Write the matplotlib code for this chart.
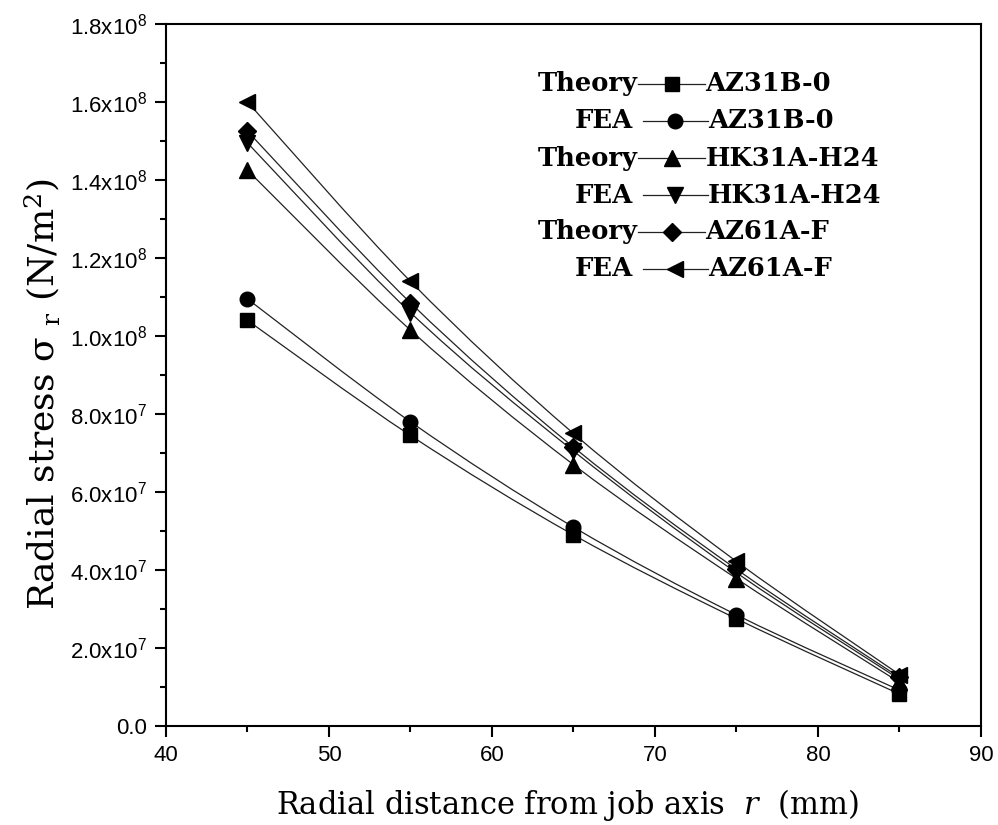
import matplotlib
matplotlib.use("Agg")
import matplotlib.pyplot as plt
from matplotlib.path import Path
from matplotlib.patches import PathPatch
from matplotlib.ticker import MultipleLocator

plt.rcParams["mathtext.fontset"] = "custom"
plt.rcParams["mathtext.rm"] = "Liberation Sans"
plt.rcParams["mathtext.sf"] = "DejaVu Serif"
plt.rcParams["mathtext.it"] = "DejaVu Serif:italic"

# radial distance (mm)
R_MM = [45, 55, 65, 75, 85]

# radial stress (N/m^2)
AZ31B_THEORY = [1.04e8, 7.45e7, 4.90e7, 2.75e7, 0.82e7]
AZ31B_FEA = [1.095e8, 7.80e7, 5.10e7, 2.85e7, 0.92e7]
HK31A_THEORY = [1.425e8, 1.015e8, 6.70e7, 3.78e7, 1.12e7]
HK31A_FEA = [1.495e8, 1.06e8, 7.05e7, 3.93e7, 1.20e7]
AZ61A_THEORY = [1.525e8, 1.085e8, 7.15e7, 4.02e7, 1.25e7]
AZ61A_FEA = [1.60e8, 1.14e8, 7.50e7, 4.22e7, 1.32e7]

METHODS = ["Theory", "FEA", "Theory", "FEA", "Theory", "FEA"]
MATERIALS = ["AZ31B-0", "AZ31B-0", "HK31A-H24", "HK31A-H24", "AZ61A-F", "AZ61A-F"]
SERIES = [AZ31B_THEORY, AZ31B_FEA, HK31A_THEORY, HK31A_FEA, AZ61A_THEORY, AZ61A_FEA]

YTICKS = [0, 2e7, 4e7, 6e7, 8e7, 1e8, 1.2e8, 1.4e8, 1.6e8, 1.8e8]
YTICK_LABELS = ["0.0", "2.0x10$^{7}$", "4.0x10$^{7}$", "6.0x10$^{7}$", "8.0x10$^{7}$",
                "1.0x10$^{8}$", "1.2x10$^{8}$", "1.4x10$^{8}$", "1.6x10$^{8}$", "1.8x10$^{8}$"]
XTICKS = [40, 50, 60, 70, 80, 90]

MARKERS = ["s", "o", "^", "v", "D", "<"]
MSIZES = [9.5, 10.5, 11, 11, 9, 11]


def smooth_path(xs, ys):
    # cubic bezier through the points (catmull-rom style tangents)
    verts = [(xs[0], ys[0])]
    codes = [Path.MOVETO]
    n = len(xs)
    for i in range(n - 1):
        x0, y0 = xs[max(i - 1, 0)], ys[max(i - 1, 0)]
        x1, y1 = xs[i], ys[i]
        x2, y2 = xs[i + 1], ys[i + 1]
        x3, y3 = xs[min(i + 2, n - 1)], ys[min(i + 2, n - 1)]
        c1 = (x1 + (x2 - x0) / 6, y1 + (y2 - y0) / 6)
        c2 = (x2 - (x3 - x1) / 6, y2 - (y3 - y1) / 6)
        verts += [c1, c2, (x2, y2)]
        codes += [Path.CURVE4] * 3
    return Path(verts, codes)


fig = plt.figure(figsize=(9.98, 8.25), dpi=100)
ax = fig.add_axes([0.1663, 0.12, 0.8166, 0.851])

for vals, mk, ms in zip(SERIES, MARKERS, MSIZES):
    ax.add_patch(PathPatch(smooth_path(R_MM, vals), fill=False,
                           edgecolor="#222222", linewidth=0.9, zorder=2))
    ax.plot(R_MM, vals, linestyle="none", marker=mk, markersize=ms,
            color="black", zorder=3)

ax.set_xlim(40, 90)
ax.set_ylim(0, 1.8e8)
ax.set_xticks(XTICKS)
ax.set_xticklabels([str(t) for t in XTICKS])
ax.set_yticks(YTICKS)
ax.set_yticklabels(YTICK_LABELS)
ax.xaxis.set_minor_locator(MultipleLocator(5))
ax.yaxis.set_minor_locator(MultipleLocator(1e7))
ax.tick_params(which="major", direction="out", length=8, width=1.5,
               labelsize=16, pad=6)
ax.tick_params(which="minor", direction="out", length=4.5, width=1.5)
for lab in ax.get_xticklabels() + ax.get_yticklabels():
    lab.set_family("Liberation Sans")
for sp in ax.spines.values():
    sp.set_linewidth(1.5)

# legend drawn by hand: "Theory —marker— material"
row_y = [0.9145, 0.862, 0.809, 0.756, 0.704, 0.651]
for meth, mat, mk, ms, y in zip(METHODS, MATERIALS, MARKERS, MSIZES, row_y):
    if meth == "Theory":
        tx, l0, l1, mx = 0.579, 0.579, 0.662, 0.621
    else:
        tx, l0, l1, mx = 0.573, 0.585, 0.665, 0.625
    ax.plot([l0, l1], [y, y], color="#222222", linewidth=0.9,
            transform=ax.transAxes)
    ax.plot([mx], [y], marker=mk, markersize=ms, color="black",
            transform=ax.transAxes)
    ax.text(tx, y, meth, ha="right", va="center", transform=ax.transAxes,
            family="DejaVu Serif", weight="bold", fontsize=18.5)
    ax.text(l1, y, mat, ha="left", va="center", transform=ax.transAxes,
            family="DejaVu Serif", weight="bold", fontsize=18.5)

fig.text(0.042, 0.522, "Radial stress σ $_{\\mathsf{r}}$ (N/m$^{\\mathsf{2}}$)",
         rotation=90, ha="center", va="center", family="DejaVu Serif",
         fontsize=26)
fig.text(0.569, 0.024, "Radial distance from job axis  $\\mathit{r}$  (mm)",
         ha="center", va="center", family="DejaVu Serif", fontsize=22)

fig.savefig("out.png", dpi=100)
